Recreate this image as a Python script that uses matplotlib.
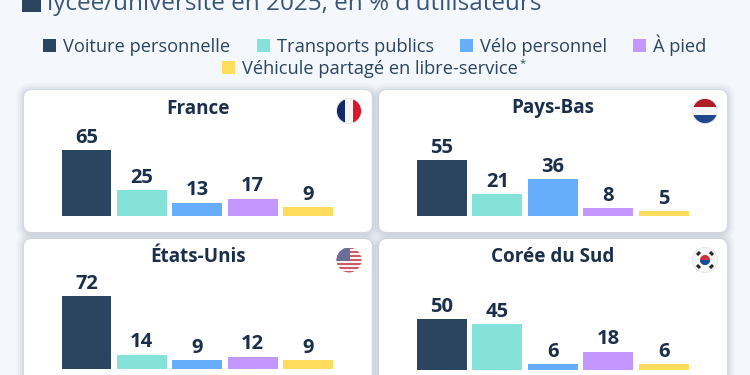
import numpy as np
from matplotlib import pyplot as plt
from matplotlib.patches import Circle, FancyBboxPatch, Rectangle

categories = ['Voiture personnelle', 'Transports publics', 'Vélo personnel', 'À pied',
              'Véhicule partagé en libre-service']
france = [65, 25, 13, 17, 9]
pays_bas = [55, 21, 36, 8, 5]
etats_unis = [72, 14, 9, 12, 9]
coree = [50, 45, 6, 18, 6]

colors = ['#2b4460', '#84e2d8', '#66aefc', '#c397fd', '#fedc5c']
dark = '#1b2f4b'
plt.rcParams['font.family'] = ['Open Sans', 'DejaVu Sans']

fig = plt.figure(figsize=(7.5, 3.75), dpi=100, facecolor='#f4f7fb')
# axe de fond en pixels, pour les cartes et le texte
bg = fig.add_axes([0, 0, 1, 1])
bg.set_xlim(0, 750)
bg.set_ylim(375, 0)
bg.axis('off')

# titre coupé en haut de l'image
bg.add_patch(Rectangle((22, -6), 19, 18, color=colors[0], lw=0))
bg.text(47, 10, "lycée/université en 2025, en % d'utilisateurs", fontsize=17.5,
        color='#3b5677', va='baseline')

# légende
legend_pos = [(43, 45), (257, 45), (460, 45), (633, 45), (222, 67.5)]
for name, c, (lx, ly) in zip(categories, colors, legend_pos):
    bg.add_patch(Rectangle((lx, ly - 6.5), 12.5, 13, color=c, lw=0))
    bg.text(lx + 20, ly + 6.5, name, fontsize=13.15, color='#2b4460', va='baseline')
bg.text(520, 66, '*', fontsize=8, color='#2b4460', va='baseline')


def card(x0, y0, x1, y1):
    # ombre en plusieurs couches
    for grow, a in [(8, 0.03), (6, 0.04), (4, 0.06), (2, 0.08)]:
        bg.add_patch(FancyBboxPatch((x0 - grow, y0 - grow + 1), x1 - x0 + 2 * grow, y1 - y0 + 2 * grow,
                                    boxstyle='round,pad=0,rounding_size=%g' % (8 + grow),
                                    fc='#5a6b85', ec='none', alpha=a))
    bg.add_patch(FancyBboxPatch((x0, y0), x1 - x0, y1 - y0, boxstyle='round,pad=0,rounding_size=8',
                                fc='white', ec='none'))


def panel(values, title, card_x, card_y, card_bottom, bar_left, base, title_y):
    card(card_x, card_y, card_x + 348, card_bottom)
    bg.text(card_x + 174, title_y, title, fontsize=13.6, fontweight='bold', color=dark,
            ha='center', va='baseline')
    # 1 unité = 1.01 px
    ax = fig.add_axes([bar_left / 750, (375 - base) / 375, 271.5 / 750, 80 * 1.01 / 375])
    ax.patch.set_alpha(0)
    ax.set_xlim(-0.45, 4.45)
    ax.set_ylim(0, 80)
    ax.axis('off')
    bars = ax.bar(range(5), values, width=0.9, color=colors)
    ax.bar_label(bars, padding=1.5, fontsize=14.5, fontweight='bold', color=dark)


def flag_base(cx, cy):
    clip = Circle((cx, cy), 12.5, transform=bg.transData)
    return clip


def clipped(patch, clip):
    bg.add_patch(patch)
    patch.set_clip_path(clip)


def flag_ring(cx, cy):
    bg.add_patch(Circle((cx, cy), 12.5, fc='none', ec='#e3e5e8', lw=0.6))


def flag_fr(cx, cy):
    clip = flag_base(cx, cy)
    for i, c in enumerate(['#12286b', '#f4f4f4', '#d8172b']):
        clipped(Rectangle((cx - 12.5 + i * 25 / 3, cy - 13), 25 / 3, 26, color=c, lw=0), clip)
    flag_ring(cx, cy)


def flag_nl(cx, cy):
    clip = flag_base(cx, cy)
    for i, c in enumerate(['#ae1c28', '#f4f4f4', '#21468b']):
        clipped(Rectangle((cx - 13, cy - 12.5 + i * 25 / 3), 26, 25 / 3, color=c, lw=0), clip)
    flag_ring(cx, cy)


def flag_us(cx, cy):
    clip = flag_base(cx, cy)
    for i in range(13):
        c = '#cf5a63' if i % 2 == 0 else '#f4f4f4'
        clipped(Rectangle((cx - 13, cy - 12.5 + i * 25 / 13), 26, 25 / 13, color=c, lw=0), clip)
    clipped(Rectangle((cx - 13, cy - 12.5), 14, 13, color='#6a6e98', lw=0), clip)


def flag_kr(cx, cy):
    clip = flag_base(cx, cy)
    clipped(Circle((cx, cy), 12.5, color='#f6f6f6', lw=0), clip)
    flag_ring(cx, cy)
    bg.add_patch(Circle((cx, cy), 5, color='#cd2e3a', lw=0))
    lower = Rectangle((cx - 5, cy), 10, 5, color='#0f4fa0', lw=0)
    bg.add_patch(lower)
    lower.set_clip_path(Circle((cx, cy), 5, transform=bg.transData))
    for dx, dy in [(-1, -1), (1, -1), (-1, 1), (1, 1)]:
        bg.plot([cx + dx * 6.5 - 1.5, cx + dx * 6.5 + 1.5], [cy + dy * 6.5 + dx * dy * 1.5, cy + dy * 6.5 - dx * dy * 1.5],
                color='#2a2a2a', lw=2.2, solid_capstyle='butt')


panel(france, 'France', 24, 90, 232, 61.5, 215.7, 113.5)
panel(pays_bas, 'Pays-Bas', 379, 90, 232, 417, 215.7, 113.5)
panel(etats_unis, 'États-Unis', 24, 239, 395, 61.5, 368.7, 262)
panel(coree, 'Corée du Sud', 379, 239, 395, 417, 369.7, 261.5)

flag_fr(349, 111)
flag_nl(705, 111)
flag_us(349, 260)
flag_kr(705, 260)

fig.savefig('out.png', dpi=100, facecolor=fig.get_facecolor())
